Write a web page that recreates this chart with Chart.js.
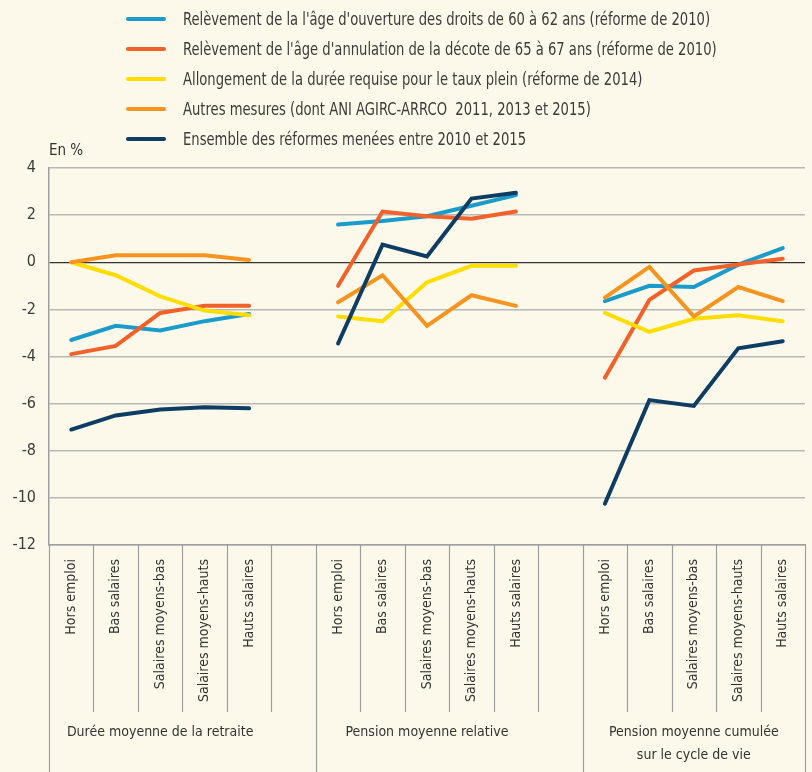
<!DOCTYPE html>
<html lang="fr">
<head>
<meta charset="utf-8">
<script src="https://cdn.jsdelivr.net/npm/chart.js@4.4.1/dist/chart.umd.min.js"></script>
<style>
    html, body { margin: 0; padding: 0; background: #fdf9ea; }
    #wrap { position: relative; width: 812px; height: 772px; }
    #chart { position: absolute; left: 0; top: 0; }
    #legend {
        position: absolute; left: 126px; top: 4px;
        font-family: 'Liberation Sans Narrow', 'DejaVu Sans Condensed', sans-serif;
        font-size: 17px; color: #3b3b3b;
    }
    .legend-item { display: flex; align-items: center; height: 30px; white-space: pre; }
    .legend-swatch { width: 40px; height: 4px; border-radius: 2px; margin-right: 17px; flex: none; }
    .legend-text { display: inline-block; transform: scaleX(0.86); transform-origin: left center; }
</style>
</head>
<body>
<div id="wrap">
    <canvas id="chart" width="812" height="772"></canvas>
    <div id="legend"></div>
</div>
<script>
const FONT = "'Liberation Sans Narrow', 'DejaVu Sans Condensed', sans-serif";

const categories = ['Hors emploi', 'Bas salaires', 'Salaires moyens-bas', 'Salaires moyens-hauts', 'Hauts salaires'];
const groups = [
    ['Durée moyenne de la retraite'],
    ['Pension moyenne relative'],
    ['Pension moyenne cumulée', 'sur le cycle de vie']
];

const seriesLabels = [
    "Relèvement de la l'âge d'ouverture des droits de 60 à 62 ans (réforme de 2010)",
    "Relèvement de l'âge d'annulation de la décote de 65 à 67 ans (réforme de 2010)",
    "Allongement de la durée requise pour le taux plein (réforme de 2014)",
    "Autres mesures (dont ANI AGIRC-ARRCO  2011, 2013 et 2015)",
    "Ensemble des réformes menées entre 2010 et 2015"
];
const seriesColors = ['#1b9bc9', '#f2612a', '#ffdd00', '#f7941f', '#0e3d63'];

// 3 groups x 5 categories, in %
const ouvertureDroits = [-3.3, -2.7, -2.9, -2.5, -2.2,   1.6, 1.75, 1.95, 2.4, 2.85,   -1.65, -1.0, -1.05, -0.1, 0.6];
const annulationDecote = [-3.9, -3.55, -2.15, -1.85, -1.85,   -1.0, 2.15, 1.95, 1.85, 2.15,   -4.9, -1.6, -0.35, -0.1, 0.15];
const dureeRequise = [0, -0.55, -1.45, -2.05, -2.25,   -2.3, -2.5, -0.85, -0.15, -0.15,   -2.15, -2.95, -2.4, -2.25, -2.5];
const autresMesures = [0, 0.3, 0.3, 0.3, 0.1,   -1.7, -0.55, -2.7, -1.4, -1.85,   -1.5, -0.2, -2.3, -1.05, -1.65];
const ensemble = [-7.1, -6.5, -6.25, -6.15, -6.2,   -3.45, 0.75, 0.25, 2.7, 2.95,   -10.25, -5.85, -6.1, -3.65, -3.35];

const yMin = -12, yMax = 4, yStep = 2;

// one empty slot between groups so the lines break
function withGaps(values) {
    const out = [];
    groups.forEach((g, gi) => {
        out.push(...values.slice(gi * categories.length, (gi + 1) * categories.length));
        if (gi < groups.length - 1) out.push(null);
    });
    return out;
}
const labels = withGaps(groups.flatMap(() => categories)).map(l => l || '');

const seriesValues = [ouvertureDroits, annulationDecote, dureeRequise, autresMesures, ensemble];

const datasets = seriesValues.map((vals, i) => ({
    label: seriesLabels[i],
    data: withGaps(vals),
    borderColor: seriesColors[i],
    backgroundColor: seriesColors[i],
    borderWidth: 4,
    borderCapStyle: 'round',
    pointRadius: 0,
    tension: 0,
    spanGaps: false,
    order: 5 - i
}));

const groupFrame = {
    id: 'groupFrame',
    afterDraw(chart) {
        const { ctx, chartArea } = chart;
        const x = chart.scales.x;
        const step = x.getPixelForValue(1) - x.getPixelForValue(0);
        const top = chartArea.bottom;
        const per = categories.length + 1;
        ctx.save();
        ctx.strokeStyle = '#9e9e9e';
        ctx.lineWidth = 1.2;
        for (let i = 0; i <= labels.length; i++) {
            const bx = Math.round(x.getPixelForValue(0) - step / 2 + i * step) + 0.5;
            const isEdge = i % per === 0 || i === labels.length;
            ctx.beginPath();
            ctx.moveTo(bx, top);
            ctx.lineTo(bx, isEdge ? chart.height : top + 167);
            ctx.stroke();
        }
        ctx.fillStyle = '#333';
        ctx.font = '14px ' + FONT;
        ctx.textAlign = 'center';
        ctx.textBaseline = 'middle';
        groups.forEach((lines, gi) => {
            const first = gi * per;
            const cx = (x.getPixelForValue(first) + x.getPixelForValue(first + categories.length - 1)) / 2;
            lines.forEach((t, li) => ctx.fillText(t, cx, 732 + li * 23));
        });
        ctx.font = '15px ' + FONT;
        ctx.textAlign = 'left';
        ctx.fillText('En %', chartArea.left, 151);
        ctx.restore();
    }
};

const chart = new Chart(document.getElementById('chart'), {
    type: 'line',
    data: { labels, datasets },
    options: {
        responsive: false,
        animation: false,
        layout: { padding: { top: 168, right: 7, left: 0, bottom: 0 } },
        plugins: { legend: { display: false }, tooltip: { enabled: false } },
        scales: {
            x: {
                offset: true,
                grid: { display: false },
                border: { display: true, color: '#9e9e9e', width: 1.5 },
                ticks: {
                    autoSkip: false, maxRotation: 90, minRotation: 90,
                    padding: 6, color: '#333',
                    font: { family: FONT, size: 14 }
                },
                afterFit: s => { s.height = 227; }
            },
            y: {
                min: yMin, max: yMax,
                grid: {
                    drawTicks: false,
                    color: c => c.tick.value === 0 ? '#333' : '#b8b8b8',
                    lineWidth: c => c.tick.value === 0 ? 1.2 : 1.5
                },
                border: { display: true, color: '#9e9e9e', width: 1.5 },
                ticks: {
                    stepSize: yStep, padding: 13, color: '#3b3b3b',
                    font: { family: FONT, size: 16 }
                },
                afterFit: s => { s.width = 49; }
            }
        }
    },
    plugins: [groupFrame]
});

const legend = document.getElementById('legend');
chart.data.datasets.forEach(ds => {
    const item = document.createElement('div');
    item.className = 'legend-item';
    item.innerHTML = `<span class="legend-swatch" style="background:${ds.borderColor}"></span><span class="legend-text">${ds.label}</span>`;
    legend.appendChild(item);
});
</script>
</body>
</html>
